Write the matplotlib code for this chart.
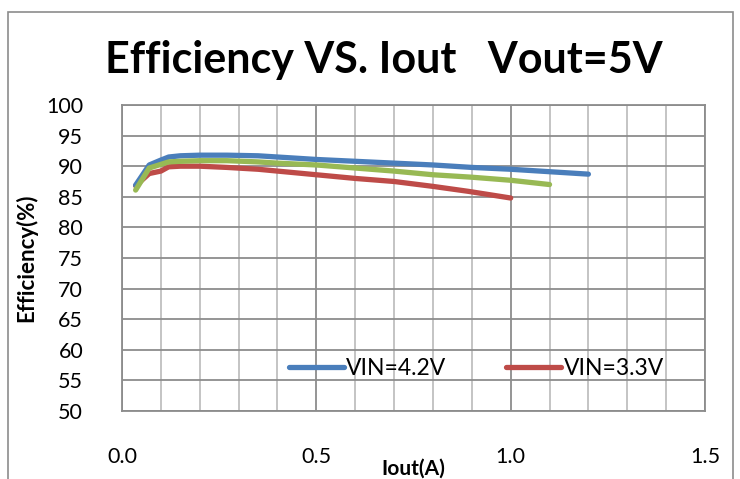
import matplotlib
matplotlib.use("Agg")
import matplotlib.pyplot as plt
from matplotlib.patches import Rectangle
from matplotlib.ticker import MultipleLocator, FormatStrFormatter

plt.rcParams["font.family"] = ["Lato", "DejaVu Sans"]

# data
iout_42 = [0.035, 0.07, 0.10, 0.12, 0.15, 0.20, 0.27, 0.35, 0.40, 0.50, 0.60, 0.70, 0.80, 0.90, 1.00, 1.10, 1.20]
eff_42 = [86.9, 90.2, 91.0, 91.5, 91.7, 91.8, 91.8, 91.7, 91.5, 91.1, 90.8, 90.5, 90.2, 89.8, 89.5, 89.1, 88.7]

iout_33 = [0.035, 0.07, 0.10, 0.12, 0.15, 0.20, 0.27, 0.35, 0.40, 0.50, 0.60, 0.70, 0.80, 0.89, 1.00]
eff_33 = [86.8, 88.8, 89.2, 89.9, 90.0, 90.0, 89.8, 89.5, 89.2, 88.6, 88.0, 87.5, 86.7, 85.9, 84.8]

iout_37 = [0.035, 0.07, 0.10, 0.12, 0.15, 0.20, 0.27, 0.35, 0.40, 0.50, 0.60, 0.70, 0.80, 0.90, 1.00, 1.10]
eff_37 = [86.1, 89.7, 90.3, 90.7, 90.8, 90.9, 90.9, 90.7, 90.5, 90.2, 89.7, 89.2, 88.6, 88.2, 87.7, 87.0]

BLUE = "#4A7EBB"
RED = "#BE4B48"
GREEN = "#98B954"

fig = plt.figure(figsize=(7.4, 4.79), dpi=100)
ax = fig.add_axes([0.1649, 0.1420, 0.7878, 0.6388])

ax.plot(iout_42, eff_42, color=BLUE, lw=3.8, solid_capstyle="round", label="VIN=4.2V", zorder=4)
ax.plot(iout_33, eff_33, color=RED, lw=3.8, solid_capstyle="round", label="VIN=3.3V", zorder=3)
ax.plot(iout_37, eff_37, color=GREEN, lw=3.8, solid_capstyle="round", zorder=5)

ax.set_xlim(0, 1.5)
ax.set_ylim(50, 100)
ax.xaxis.set_major_locator(MultipleLocator(0.5))
ax.xaxis.set_minor_locator(MultipleLocator(0.1))
ax.yaxis.set_major_locator(MultipleLocator(5))
ax.xaxis.set_major_formatter(FormatStrFormatter("%.1f"))

ax.grid(True, which="major", axis="both", color="#8C8C8C", lw=1.3)
ax.grid(True, which="minor", axis="x", color="#BFBFBF", lw=1.3)
ax.set_axisbelow(True)
ax.tick_params(which="both", length=0)
ax.tick_params(axis="x", pad=26, labelsize=15.5)
ax.tick_params(axis="y", pad=28, labelsize=15.5)
for s in ax.spines.values():
    s.set_color("#8C8C8C")
    s.set_linewidth(1.3)

ax.set_xlabel("Iout(A)", fontsize=15, fontweight="bold", labelpad=-6)
ax.set_ylabel("Efficiency(%)", fontsize=16, fontweight="bold", labelpad=6)

fig.text(0.519, 0.875, "Efficiency VS. Iout   Vout=5V", ha="center", va="center",
         fontsize=31, fontweight="bold")

ax.legend(ncol=2, frameon=False, loc="center", bbox_to_anchor=(0.608, 0.14),
          fontsize=16.5, handlelength=2.4, columnspacing=2.6, handletextpad=0.1)

fig.patches.append(Rectangle((8 / 740, -0.1), 725 / 740, 1.1 - 12 / 479,
                             transform=fig.transFigure, fill=False,
                             edgecolor="#8C8C8C", lw=1.2))

fig.savefig("out.png", dpi=100)
